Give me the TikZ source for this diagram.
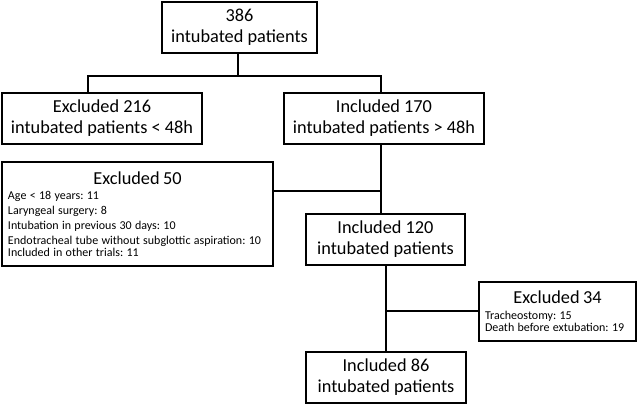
\documentclass[tikz,border=0pt]{standalone}
\usepackage{fontspec}
\setmainfont{Carlito}
\usetikzlibrary{positioning}
\frenchspacing

\tikzset{
    flowbox/.style={draw, line width=1.2pt, align=center, inner sep=2pt,
        font=\fontsize{18.3}{21}\selectfont},
    listbox/.style={draw, line width=1.2pt, inner xsep=6pt, inner ysep=2pt},
    link/.style={line width=1.2pt}
}

\begin{document}
\begin{tikzpicture}[x=1pt, y=-1pt]
    \useasboundingbox (0,0) rectangle (638,405);
    \node[flowbox, minimum width=155pt, minimum height=51pt] (all) at (239.5, 27.5) {386\\intubated patients};
    \node[flowbox, minimum width=200pt, minimum height=51pt] (exA) at (102, 118.5) {Excluded 216\\intubated patients < 48h};
    \node[flowbox, minimum width=200pt, minimum height=51pt] (inA) at (384, 118.5) {Included 170\\intubated patients > 48h};
    \node[listbox, minimum width=271pt, minimum height=104pt, text width=259pt] (exB) at (137.5, 214)
        {{\fontsize{18.3}{21}\selectfont\centering Excluded 50\par}\fontsize{12}{15}\selectfont
        Age < 18 years: 11\\
        Laryngeal surgery: 8\\
        Intubation in previous 30 days: 10\\
        Endotracheal tube without subglottic aspiration: 10\\
        Included in other trials: 11};
    \node[flowbox, minimum width=159pt, minimum height=51pt] (inB) at (385.5, 239.5) {Included 120\\intubated patients};
    \node[listbox, minimum width=157pt, minimum height=59pt, text width=145pt] (exC) at (557.5, 311.5)
        {{\fontsize{18.3}{21}\selectfont\centering Excluded 34\par}\fontsize{12}{16}\selectfont
        Tracheostomy: 15\\
        Death before extubation: 19};
    \node[flowbox, minimum width=160pt, minimum height=51pt] (inC) at (386, 377.5) {Included 86\\intubated patients};

    % split lines
    \coordinate (forkA) at (238, 76);
    \coordinate (forkB) at (381, 191);
    \coordinate (forkC) at (386, 311);
    \draw[link] (all.south -| forkA) -- (forkA);
    \draw[link] ([xshift=-14pt]exA.north) |- (forkA) -| (inA.north -| forkB);
    \draw[link] (inA.south -| forkB) -- (inB.north -| forkB);
    \draw[link] (exB.east |- forkB) -- (forkB);
    \draw[link] (inB.south -| forkC) -- (inC.north -| forkC);
    \draw[link] (forkC) -- (exC.west |- forkC);
\end{tikzpicture}
\end{document}
